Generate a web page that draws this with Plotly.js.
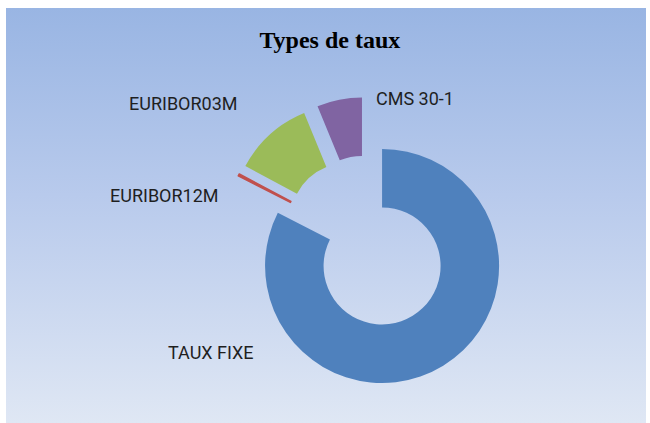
<!DOCTYPE html>
<html>
<head>
<meta charset="utf-8">
<script src="https://cdn.plot.ly/plotly-3.0.1.min.js"></script>
<style>
  body { margin: 0; background: #ffffff; }
  #plot {
    position: absolute; left: 6px; top: 8px; width: 640px; height: 415px;
    background: linear-gradient(to bottom, #99b5e3 0%, #b8caec 45%, #dfe7f4 100%);
  }
</style>
</head>
<body>
<div id="plot"></div>
<script>
// parts of the portfolio by rate type (%)
let categories = ['TAUX FIXE', 'EURIBOR12M', 'EURIBOR03M', 'CMS 30-1'];
let shares = [82.5, 0.3, 11, 6.2];
let colors = ['#4f81bd', '#c0504d', '#9bbb59', '#8064a2'];

// where Excel put each outside label (paper coords)
let labelX = [0.320, 0.248, 0.278, 0.639];
let labelY = [0.169, 0.549, 0.771, 0.783];

let trace = {
    type: 'pie',
    labels: categories,
    values: shares,
    sort: false,
    direction: 'clockwise',
    rotation: 0,
    hole: 0.5,
    pull: [0.24, 0.24, 0.24, 0.24],
    marker: { colors: colors, line: { color: colors, width: [0, 1.5, 0, 0] } },
    textinfo: 'none',
    hoverinfo: 'label+percent',
    domain: { x: [0.338, 0.7914], y: [0.0865, 0.7858] }
};

let annotations = categories.map((c, i) => ({
    text: c,
    x: labelX[i],
    y: labelY[i],
    xref: 'paper',
    yref: 'paper',
    xanchor: 'center',
    yanchor: 'middle',
    showarrow: false,
    font: { family: 'Roboto, Liberation Sans, Arial, sans-serif', size: 18, color: '#1f1f1f' }
}));

let layout = {
    width: 640,
    height: 415,
    margin: { l: 0, r: 0, t: 0, b: 0 },
    paper_bgcolor: 'rgba(0,0,0,0)',
    plot_bgcolor: 'rgba(0,0,0,0)',
    showlegend: false,
    title: {
        text: '<b>Types de taux</b>',
        x: 0.506,
        y: 0.923,
        xanchor: 'center',
        yanchor: 'middle',
        font: { family: 'Liberation Serif, serif', size: 24, color: '#000000' }
    },
    annotations: annotations
};

Plotly.newPlot('plot', [trace], layout, { displayModeBar: false, staticPlot: true });
</script>
</body>
</html>
